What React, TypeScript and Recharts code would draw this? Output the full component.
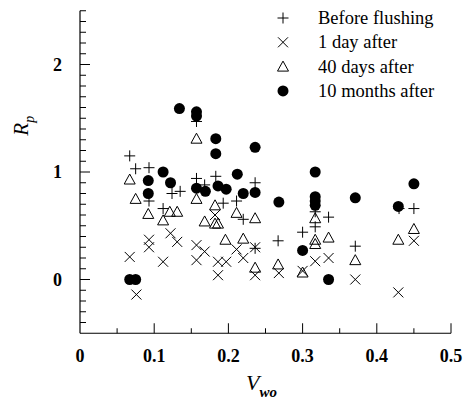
import React from "react";
import { ScatterChart, Scatter, XAxis, YAxis, Legend } from "recharts";

// Rp against Vwo, four survey dates
const beforeFlushing = [
  { x: 0.067, y: 1.15 }, { x: 0.075, y: 1.03 }, { x: 0.093, y: 1.04 }, { x: 0.093, y: 0.73 },
  { x: 0.112, y: 0.66 }, { x: 0.124, y: 0.8 }, { x: 0.135, y: 0.82 }, { x: 0.157, y: 0.94 },
  { x: 0.157, y: 1.47 }, { x: 0.168, y: 0.88 }, { x: 0.183, y: 0.96 }, { x: 0.193, y: 0.71 },
  { x: 0.211, y: 0.73 }, { x: 0.22, y: 0.56 }, { x: 0.236, y: 0.9 }, { x: 0.236, y: 0.29 },
  { x: 0.267, y: 0.36 }, { x: 0.3, y: 0.44 }, { x: 0.317, y: 0.49 }, { x: 0.317, y: 0.63 },
  { x: 0.335, y: 0.58 }, { x: 0.371, y: 0.31 }, { x: 0.43, y: 0.66 }, { x: 0.45, y: 0.66 },
];
const oneDayAfter = [
  { x: 0.067, y: 0.21 }, { x: 0.076, y: -0.14 }, { x: 0.093, y: 0.37 }, { x: 0.093, y: 0.3 },
  { x: 0.112, y: 0.165 }, { x: 0.122, y: 0.43 }, { x: 0.131, y: 0.35 }, { x: 0.157, y: 0.32 },
  { x: 0.157, y: 0.18 }, { x: 0.168, y: 0.26 }, { x: 0.182, y: 0.6 }, { x: 0.186, y: 0.165 },
  { x: 0.186, y: 0.04 }, { x: 0.197, y: 0.165 }, { x: 0.211, y: 0.28 }, { x: 0.22, y: 0.2 },
  { x: 0.236, y: 0.3 }, { x: 0.236, y: 0.04 }, { x: 0.268, y: 0.06 }, { x: 0.3, y: 0.08 },
  { x: 0.317, y: 0.17 }, { x: 0.335, y: 0.2 }, { x: 0.371, y: 0.0 }, { x: 0.429, y: -0.12 },
  { x: 0.45, y: 0.36 },
];
const fortyDaysAfter = [
  { x: 0.067, y: 0.93 }, { x: 0.075, y: 0.75 }, { x: 0.092, y: 0.61 }, { x: 0.112, y: 0.55 },
  { x: 0.121, y: 0.63 }, { x: 0.131, y: 0.63 }, { x: 0.157, y: 1.31 }, { x: 0.157, y: 0.75 },
  { x: 0.168, y: 0.54 }, { x: 0.182, y: 0.69 }, { x: 0.182, y: 0.52 }, { x: 0.186, y: 0.52 },
  { x: 0.196, y: 0.37 }, { x: 0.211, y: 0.62 }, { x: 0.22, y: 0.38 }, { x: 0.236, y: 0.57 },
  { x: 0.236, y: 0.11 }, { x: 0.267, y: 0.14 }, { x: 0.3, y: 0.065 }, { x: 0.317, y: 0.57 },
  { x: 0.317, y: 0.37 }, { x: 0.317, y: 0.33 }, { x: 0.335, y: 0.39 }, { x: 0.371, y: 0.18 },
  { x: 0.429, y: 0.37 }, { x: 0.45, y: 0.47 },
];
const tenMonthsAfter = [
  { x: 0.067, y: 0.0 }, { x: 0.075, y: 0.0 }, { x: 0.092, y: 0.92 }, { x: 0.092, y: 0.8 },
  { x: 0.112, y: 1.0 }, { x: 0.122, y: 0.9 }, { x: 0.134, y: 1.59 }, { x: 0.157, y: 1.56 },
  { x: 0.157, y: 1.52 }, { x: 0.157, y: 0.85 }, { x: 0.169, y: 0.82 }, { x: 0.183, y: 1.31 },
  { x: 0.183, y: 1.17 }, { x: 0.186, y: 0.87 }, { x: 0.197, y: 0.84 }, { x: 0.212, y: 0.98 },
  { x: 0.22, y: 0.8 }, { x: 0.236, y: 1.23 }, { x: 0.236, y: 0.81 }, { x: 0.268, y: 0.72 },
  { x: 0.3, y: 0.27 }, { x: 0.317, y: 1.0 }, { x: 0.317, y: 0.77 }, { x: 0.317, y: 0.73 },
  { x: 0.317, y: 0.69 }, { x: 0.335, y: 0.0 }, { x: 0.371, y: 0.76 }, { x: 0.429, y: 0.68 },
  { x: 0.45, y: 0.89 },
];

const seriesNames = ["Before flushing", "1 day after", "40 days after", "10 months after"];
const xTicks = [0, 0.05, 0.1, 0.15, 0.2, 0.25, 0.3, 0.35, 0.4, 0.45, 0.5];
const xLabels = ["0", "0.1", "0.2", "0.3", "0.4", "0.5"];
const yLabels = [0, 1, 2];
// minor ticks every 0.1 between -0.5 and 2.5
const yTicks = Array.from({ length: 31 }, (_, i) => Math.round((i * 0.1 - 0.5) * 10) / 10);

const FONT = "'Liberation Serif', 'Times New Roman', Tinos, 'DejaVu Serif', serif";

function Plus({ cx, cy }: any) {
  const s = 5.5;
  return <path d={`M${cx - s},${cy}H${cx + s}M${cx},${cy - s}V${cy + s}`} stroke="#000" strokeWidth={1} fill="none" />;
}
function Cross({ cx, cy }: any) {
  const s = 5;
  return (
    <path d={`M${cx - s},${cy - s}L${cx + s},${cy + s}M${cx - s},${cy + s}L${cx + s},${cy - s}`}
      stroke="#000" strokeWidth={1} fill="none" />
  );
}
function Tri({ cx, cy }: any) {
  return (
    <path d={`M${cx},${cy - 5.5}L${cx - 5.5},${cy + 4.5}L${cx + 5.5},${cy + 4.5}Z`}
      fill="none" stroke="#000" strokeWidth={1} />
  );
}
function Dot({ cx, cy }: any) {
  return <circle cx={cx} cy={cy} r={5.5} fill="#000" />;
}
const shapes = [Plus, Cross, Tri, Dot];

const renderXTick = (p: any) => {
  const { x, y, payload } = p;
  const v = Number(payload.value);
  const major = Math.abs(v * 10 - Math.round(v * 10)) < 1e-6;
  const label = major ? xLabels[Math.round(v * 10)] : null;
  return (
    <g key={`xt-${v}`}>
      {v > 0 && <path d={`M${x},${y}V${y - (major ? 10 : 5)}`} stroke="#000" strokeWidth={1} fill="none" />}
      {label && (
        <text x={x} y={y + 29} textAnchor="middle" fill="#000"
          style={{ fontFamily: FONT, fontWeight: "bold", fontSize: 18 }}>
          {label}
        </text>
      )}
    </g>
  );
};

const renderYTick = (p: any) => {
  const { x, y, payload } = p;
  const v = Number(payload.value);
  const major = yLabels.includes(v);
  return (
    <g key={`yt-${v}`}>
      {v > -0.5 && <path d={`M${x},${y}H${x + (major ? 10 : 6)}`} stroke="#000" strokeWidth={1} fill="none" />}
      {major && (
        <text x={x - 18} y={y + 6} textAnchor="end" fill="#000"
          style={{ fontFamily: FONT, fontWeight: "bold", fontSize: 18 }}>
          {v}
        </text>
      )}
    </g>
  );
};

function LegendBox() {
  return (
    <svg width={190} height={100}>
      {seriesNames.map((n, i) => {
        const Shape = shapes[i];
        const cy = 12 + i * 24.3;
        return (
          <g key={n}>
            <Shape cx={13} cy={cy} />
            <text x={48} y={cy + 6} fill="#000" style={{ fontFamily: FONT, fontSize: 18.5 }}>{n}</text>
          </g>
        );
      })}
    </svg>
  );
}

export default function App() {
  const sets = [beforeFlushing, oneDayAfter, fortyDaysAfter, tenMonthsAfter];
  return (
    <div style={{ position: "absolute", left: 0, top: 0, width: 464, height: 410, background: "#fff" }}>
      <ScatterChart width={464} height={410} margin={{ top: 10.75, right: 13, bottom: 26.75, left: 20 }}>
        <XAxis
          type="number" dataKey="x" domain={[0, 0.5]} ticks={xTicks} interval={0}
          tickSize={0} tickMargin={0} tickLine={false} height={50}
          axisLine={{ stroke: "#000", strokeWidth: 1.2 }} tick={renderXTick}
          label={{
            content: ({ viewBox }: any) => (
              <text x={viewBox.x + viewBox.width / 2 - 4} y={viewBox.y + 57} textAnchor="middle" fill="#000"
                style={{ fontFamily: FONT, fontStyle: "italic", fontSize: 22 }}>
                V<tspan dy={7} style={{ fontSize: 15, fontWeight: "bold" }}>wo</tspan>
              </text>
            ),
          }}
        />
        <YAxis
          type="number" dataKey="y" domain={[-0.5, 2.5]} ticks={yTicks} interval={0}
          tickSize={0} tickMargin={0} tickLine={false} width={60}
          axisLine={{ stroke: "#000", strokeWidth: 1.2 }} tick={renderYTick}
          label={{
            content: ({ viewBox }: any) => {
              const cx = viewBox.x + 8;
              const cy = viewBox.y + 115;
              return (
                <text x={cx} y={cy} transform={`rotate(-90 ${cx} ${cy})`} textAnchor="middle" fill="#000"
                  style={{ fontFamily: FONT, fontStyle: "italic", fontSize: 21 }}>
                  R<tspan dy={6} style={{ fontSize: 14 }}>p</tspan>
                </text>
              );
            },
          }}
        />
        <Legend layout="horizontal" align="center" verticalAlign="middle"
          wrapperStyle={{ top: 6, left: 270, width: 190, height: 100 }}
          content={() => <LegendBox />} />
        {sets.map((d, i) => (
          <Scatter key={seriesNames[i]} name={seriesNames[i]} data={d} shape={shapes[i]}
            isAnimationActive={false} />
        ))}
      </ScatterChart>
    </div>
  );
}
